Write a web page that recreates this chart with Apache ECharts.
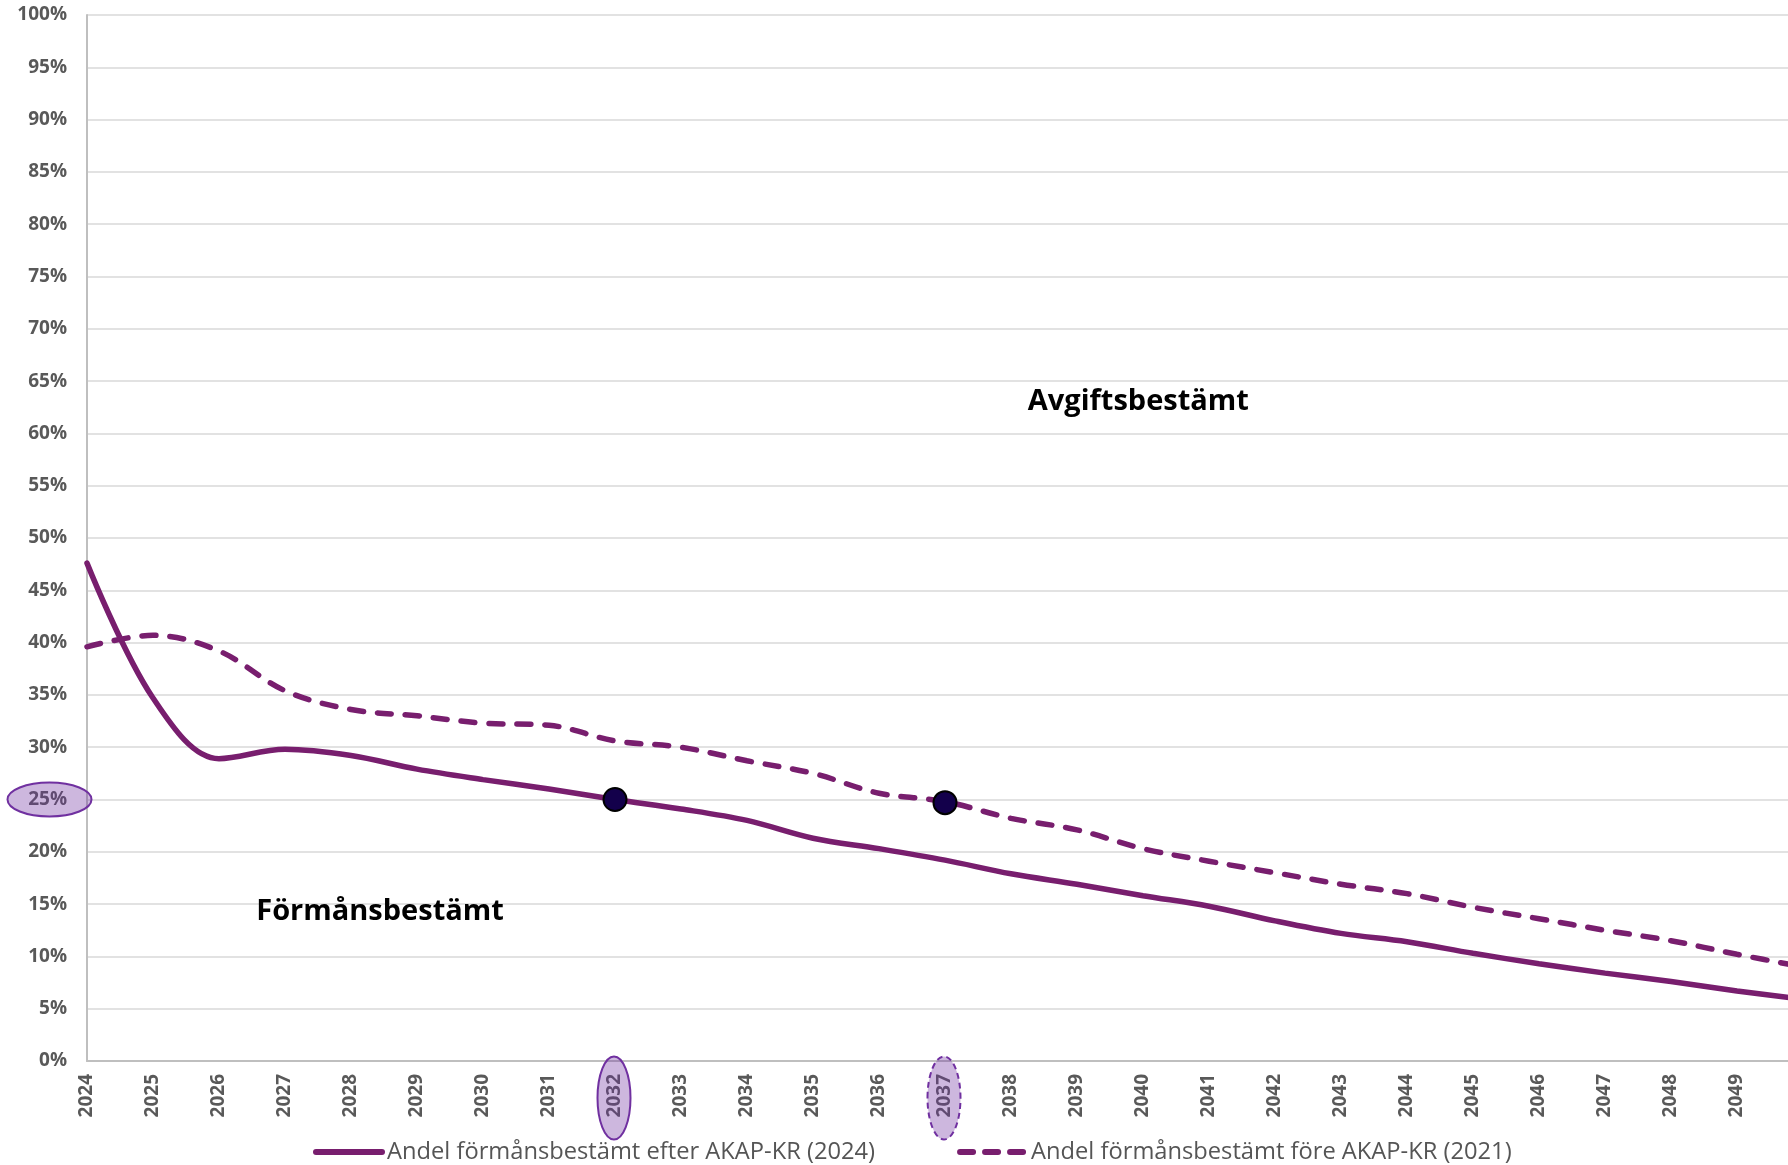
<!DOCTYPE html>
<html>
<head>
<meta charset="utf-8">
<script src="https://cdn.jsdelivr.net/npm/echarts@6/dist/echarts.min.js"></script>
<style>
html,body{margin:0;padding:0;background:#fff;overflow:hidden;width:1788px;height:1165px;}
#chart{width:1803px;height:1165px;}
</style>
</head>
<body>
<div id="chart"></div>
<script>
// ---- data ----
var years = ['2024','2025','2026','2027','2028','2029','2030','2031','2032','2033','2034','2035','2036','2037','2038','2039','2040','2041','2042','2043','2044','2045','2046','2047','2048','2049','2050'];
var efterName = 'Andel förmånsbestämt efter AKAP-KR (2024)';
var foreName = 'Andel förmånsbestämt före AKAP-KR (2021)';
var efterValues = [47.6, 34.7, 28.9, 29.8, 29.2, 27.9, 26.9, 26.0, 25.0, 24.1, 23.0, 21.3, 20.3, 19.2, 17.9, 16.9, 15.8, 14.8, 13.4, 12.2, 11.4, 10.3, 9.3, 8.4, 7.6, 6.7, 5.9];
var foreValues = [39.6, 40.7, 39.2, 35.4, 33.6, 33.0, 32.3, 32.1, 30.6, 30.0, 28.7, 27.5, 25.6, 24.8, 23.2, 22.1, 20.3, 19.1, 18.0, 16.9, 16.0, 14.7, 13.6, 12.5, 11.5, 10.2, 9.0];
var dotYears = ['2032', '2037'];
var dotValues = [25.0, 24.7];
var highlightYears = ['2032', '2037'];
var highlightValue = 25;
var annoTexts = ['Avgiftsbestämt', 'Förmånsbestämt'];
var annoX = [15.93, 4.44];
var annoY = [63, 14.3];

var lineColor = '#781E6E';
var gray = '#595959';
var font = "'Open Sans', 'Liberation Sans', sans-serif";

var chart = echarts.init(document.getElementById('chart'));
var option = {
  animation: false,
  backgroundColor: '#ffffff',
  grid: { left: 87, right: 0, top: 15, bottom: 104, containLabel: false },
  xAxis: {
    type: 'category',
    data: years,
    boundaryGap: false,
    axisLine: { show: true, lineStyle: { color: '#BFBFBF', width: 2 } },
    axisTick: { show: false },
    axisLabel: {
      rotate: 90, margin: 13, color: gray, fontWeight: 'bold', fontSize: 19, fontFamily: font,
      interval: function (index) { return index < years.length - 1; }
    },
    splitLine: { show: false }
  },
  yAxis: {
    type: 'value',
    min: 0, max: 100, interval: 5,
    axisLine: { show: true, lineStyle: { color: '#BFBFBF', width: 2 } },
    axisTick: { show: false },
    axisLabel: { formatter: '{value}%', margin: 20, color: gray, fontWeight: 'bold', fontSize: 19, fontFamily: font },
    splitLine: { show: true, lineStyle: { color: '#D9D9D9', width: 1.5 } }
  },
  legend: {
    left: 308, top: 1135,
    data: [
      { name: efterName, itemStyle: { opacity: 0 }, lineStyle: { width: 6, cap: 'round' } },
      { name: foreName, itemStyle: { opacity: 0 }, lineStyle: { width: 6, type: [13, 12], cap: 'round' } }
    ],
    itemWidth: 66, itemHeight: 8, itemGap: 82,
    textStyle: { color: '#555555', fontSize: 23.7, fontFamily: font }
  },
  series: [
    {
      name: efterName, type: 'line', data: efterValues, smooth: 0.35,
      symbol: 'none', z: 3,
      lineStyle: { color: lineColor, width: 5.5, cap: 'round' },
      itemStyle: { color: lineColor }
    },
    {
      name: foreName, type: 'line', data: foreValues, smooth: 0.35,
      symbol: 'none', z: 3,
      lineStyle: { color: lineColor, width: 5.5, type: [14, 14], cap: 'round' },
      itemStyle: { color: lineColor }
    },
    {
      name: 'punkter', type: 'scatter', z: 5,
      data: dotYears.map(function (y, i) { return [y, dotValues[i]]; }),
      symbol: 'circle', symbolSize: 23,
      itemStyle: { color: '#13004B', borderColor: '#000000', borderWidth: 2, opacity: 1 }
    }
  ]
};
chart.setOption(option);

// annotations positioned via the chart's scales
function xAt(idx) {
  var i0 = Math.floor(idx), i1 = Math.ceil(idx);
  var a = chart.convertToPixel({ xAxisIndex: 0 }, years[i0]);
  var b = chart.convertToPixel({ xAxisIndex: 0 }, years[i1]);
  return a + (b - a) * (idx - i0);
}
var gfx = [];
var p25 = chart.convertToPixel({ yAxisIndex: 0 }, highlightValue);
var axisX = chart.convertToPixel({ xAxisIndex: 0 }, years[0]);
var axisY = chart.convertToPixel({ yAxisIndex: 0 }, 0);
gfx.push({
  type: 'ellipse', z: 100,
  shape: { cx: axisX - 37.5, cy: p25, rx: 42, ry: 17 },
  style: { fill: 'rgba(112,48,160,0.35)', stroke: '#7030A0', lineWidth: 2 }
});
highlightYears.forEach(function (y, i) {
  var px = chart.convertToPixel({ xAxisIndex: 0 }, y);
  gfx.push({
    type: 'ellipse', z: 100,
    shape: { cx: px - 1, cy: axisY + 37, rx: 16.5, ry: 41.5 },
    style: { fill: 'rgba(112,48,160,0.35)', stroke: '#7030A0', lineWidth: 2, lineDash: i === 1 ? [6, 4] : null }
  });
});
annoTexts.forEach(function (t, i) {
  var px = xAt(annoX[i]);
  var py = chart.convertToPixel({ yAxisIndex: 0 }, annoY[i]);
  gfx.push({
    type: 'text', z: 100, x: px, y: py,
    style: { text: t, fill: '#000000', font: "bold 29px 'Open Sans', sans-serif", align: 'center', verticalAlign: 'middle', textAlign: 'center', textVerticalAlign: 'middle' }
  });
});
chart.setOption({ graphic: gfx });
</script>
</body>
</html>
